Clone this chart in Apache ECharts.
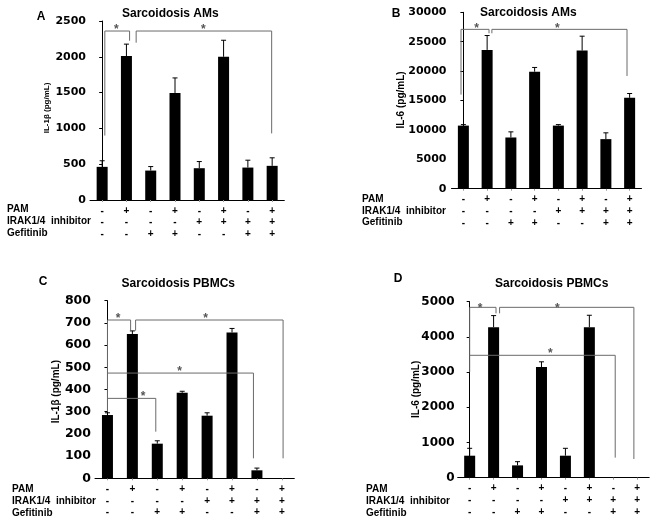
<!DOCTYPE html>
<html><head><meta charset="utf-8">
<script src="https://cdn.jsdelivr.net/npm/echarts@6/dist/echarts.min.js"></script>
<style>html,body{margin:0;padding:0;background:#fff}#c{width:654px;height:523px}</style>
</head><body><div id="c"></div>
<script>
// ---- condition rows (x-axis table) ----
const PAM  = ['-','+','-','+','-','+','-','+'];
const IRAK = ['-','-','-','-','+','+','+','+'];
const GEF  = ['-','-','+','+','-','-','+','+'];
const rowNames = ['PAM', 'IRAK1/4  inhibitor', 'Gefitinib'];

// ---- panel A: Sarcoidosis AMs, IL-1β ----
const aValues = [463, 2010, 411, 1495, 444, 2000, 453, 477];
const aErrors = [85, 167, 56, 210, 93, 231, 103, 112];
const aBrackets = [
  [[0.11, 900], [0.11, 2360], [1.13, 2360], [1.13, 2225]],
  [[1.40, 2197], [1.40, 2360], [6.98, 2360], [6.98, 930]]
];
const aStars = [[0.58, 2420], [4.17, 2420]];

// ---- panel B: Sarcoidosis AMs, IL-6 ----
const bValues = [10730, 23600, 8710, 19900, 10730, 23500, 8430, 15450];
const bErrors = [170, 2450, 955, 720, 170, 2440, 1070, 740];
const bBrackets = [
  [[-0.1, 16000], [-0.1, 27100], [1.08, 27100], [1.08, 26430]],
  [[1.2, 26430], [1.2, 27100], [6.89, 27100], [6.89, 19170]]
];
const bStars = [[0.56, 27700], [3.96, 27700]];

// ---- panel C: Sarcoidosis PBMCs, IL-1β ----
const cValues = [285, 650, 156, 385, 282, 657, 36, 1];
const cErrors = [10, 14, 13, 7, 13, 18, 10, 0];
const cBrackets = [
  [[0, 300], [0, 713], [0.93, 713], [0.93, 665]],
  [[1.13, 665], [1.13, 713], [7.05, 713], [7.05, 90]],
  [[0, 474], [5.86, 474], [5.86, 90]],
  [[0, 360], [1.94, 360], [1.94, 210]]
];
const cStars = [[0.43, 731], [3.94, 731], [2.9, 494], [1.43, 380]];

// ---- panel D: Sarcoidosis PBMCs, IL-6 ----
const dValues = [625, 4275, 350, 3142, 625, 4275, 0, 0];
const dErrors = [210, 330, 105, 150, 210, 340, 0, 0];
const dBrackets = [
  [[0, 3000], [0, 4840], [1.1, 4840], [1.1, 4670]],
  [[1.25, 4670], [1.25, 4840], [6.86, 4840], [6.86, 530]],
  [[0, 3477], [6.08, 3477], [6.08, 570]]
];
const dStars = [[0.43, 4900], [3.66, 4900], [3.37, 3600]];

// ---- axis scales ----
const yMax = [2500, 30000, 800, 5000];
const yInterval = [500, 5000, 100, 1000];
const titles = ['Sarcoidosis AMs', 'Sarcoidosis AMs', 'Sarcoidosis PBMCs', 'Sarcoidosis PBMCs'];
const letters = ['A', 'B', 'C', 'D'];
const yNames = ['IL-1β (pg/mL)', 'IL-6 (pg/mL)', 'IL-1β (pg/mL)', 'IL-6 (pg/mL)'];

const panels = [
  {values: aValues, errors: aErrors, brackets: aBrackets, stars: aStars},
  {values: bValues, errors: bErrors, brackets: bBrackets, stars: bStars},
  {values: cValues, errors: cErrors, brackets: cBrackets, stars: cStars},
  {values: dValues, errors: dErrors, brackets: dBrackets, stars: dStars}
];

// ---- layout (styles/positions) ----
const grids = [
  {left: 90, top: 21, width: 194.3, height: 179},
  {left: 451.5, top: 12.3, width: 190, height: 176.4},
  {left: 95, top: 300.7, width: 199.3, height: 177.6},
  {left: 457.7, top: 301.7, width: 191.5, height: 176}
];
const tickFont = [11, 11, 12.5, 12];
const labelMargin = [4, 5, 4, 3];
const categories = PAM.map((p, i) => p + '\n' + IRAK[i] + '\n' + GEF[i]);

const xAxes = [], yAxes = [], series = [];
panels.forEach((p, k) => {
  xAxes.push({
    type: 'category', gridIndex: k, data: categories,
    axisLine: {lineStyle: {color: '#000', width: 1}},
    axisTick: {show: true, alignWithLabel: true, length: 2, lineStyle: {color: '#999'}},
    axisLabel: {interval: 0, margin: 5, color: '#000', fontFamily: 'Liberation Sans', fontWeight: 'bold', fontSize: 10, lineHeight: 11.7}
  });
  yAxes.push({
    type: 'value', gridIndex: k, min: 0, max: yMax[k], interval: yInterval[k],
    axisLine: {show: true, lineStyle: {color: '#000', width: 1}},
    axisTick: {show: true, length: 3, lineStyle: {color: '#000'}},
    splitLine: {show: false},
    axisLabel: {margin: labelMargin[k], color: '#000', fontFamily: 'DejaVu Sans', fontWeight: 'bold',
      fontSize: tickFont[k], formatter: v => String(v)}
  });
});
panels.forEach((p, k) => {
  xAxes.push({type: 'value', gridIndex: k, min: -0.5, max: 7.5, show: false});
});

panels.forEach((p, k) => {
  series.push({
    type: 'bar', xAxisIndex: k, yAxisIndex: k, data: p.values, barWidth: 11,
    itemStyle: {color: '#000'}, silent: true
  });
  series.push({
    type: 'custom', xAxisIndex: k, yAxisIndex: k,
    data: p.values.map((v, i) => [i, v, p.errors[i]]),
    encode: {x: 0, y: 1},
    renderItem: function (params, api) {
      const e = api.value(2);
      if (!(e > 0)) return null;
      const a = api.coord([api.value(0), api.value(1)]);
      const b = api.coord([api.value(0), api.value(1) + e]);
      const st = {stroke: '#000', lineWidth: 1};
      return {type: 'group', children: [
        {type: 'line', shape: {x1: a[0], y1: a[1], x2: b[0], y2: b[1]}, style: st},
        {type: 'line', shape: {x1: b[0] - 2.5, y1: b[1], x2: b[0] + 2.5, y2: b[1]}, style: st}
      ]};
    }
  });
  p.brackets.forEach(br => {
    series.push({
      type: 'line', xAxisIndex: 4 + k, yAxisIndex: k, data: br, symbol: 'none',
      lineStyle: {color: '#6a6a6a', width: 1}, silent: true, clip: false
    });
  });
  series.push({
    type: 'custom', xAxisIndex: 4 + k, yAxisIndex: k, data: p.stars,
    encode: {x: 0, y: 1}, clip: false,
    renderItem: function (params, api) {
      const c = api.coord([api.value(0), api.value(1)]);
      return {type: 'text', x: c[0], y: c[1] + 3, style: {text: '*', fill: '#555',
        font: 'bold 12px "Liberation Sans"', align: 'center', verticalAlign: 'middle'}};
    }
  });
});

// ---- texts ----
const titlePos = [[170.3, 13.3], [528.3, 12.7], [178.3, 283.3], [551.7, 284]];
const letterPos = [[41, 17], [396, 14], [43, 282], [398, 279]];
const yNamePos = [[46.7, 108], [401, 100], [56.7, 391.7], [416, 389.3]];
const yNameSize = [8, 10, 10, 10];
const rowX = [7, 362, 12, 366];
const rowY = [[209.5, 221.5, 233], [199.3, 211, 222.7], [489.7, 501.7, 513.3], [489.7, 501.3, 513]];

const graphic = [];
for (let k = 0; k < 4; k++) {
  graphic.push({type: 'text', x: titlePos[k][0], y: titlePos[k][1], style: {text: titles[k], fill: '#000',
    font: 'bold 12px "Liberation Sans"', align: 'center', verticalAlign: 'middle'}});
  graphic.push({type: 'text', x: letterPos[k][0], y: letterPos[k][1], style: {text: letters[k], fill: '#000',
    font: 'bold 12px "Liberation Sans"', align: 'center', verticalAlign: 'middle'}});
  graphic.push({type: 'text', x: yNamePos[k][0], y: yNamePos[k][1], rotation: Math.PI / 2,
    style: {text: yNames[k], fill: '#000', font: 'bold ' + yNameSize[k] + 'px "Liberation Sans"', align: 'center', verticalAlign: 'middle'}});
  rowNames.forEach((n, r) => {
    graphic.push({type: 'text', x: rowX[k], y: rowY[k][r], style: {text: n, fill: '#000',
      font: 'bold 10px "Liberation Sans"', align: 'left', verticalAlign: 'middle'}});
  });
}

const chart = echarts.init(document.getElementById('c'), null, {renderer: 'canvas'});
chart.setOption({
  animation: false,
  backgroundColor: '#fff',
  grid: grids,
  xAxis: xAxes,
  yAxis: yAxes,
  series: series,
  graphic: graphic
});
</script></body></html>
